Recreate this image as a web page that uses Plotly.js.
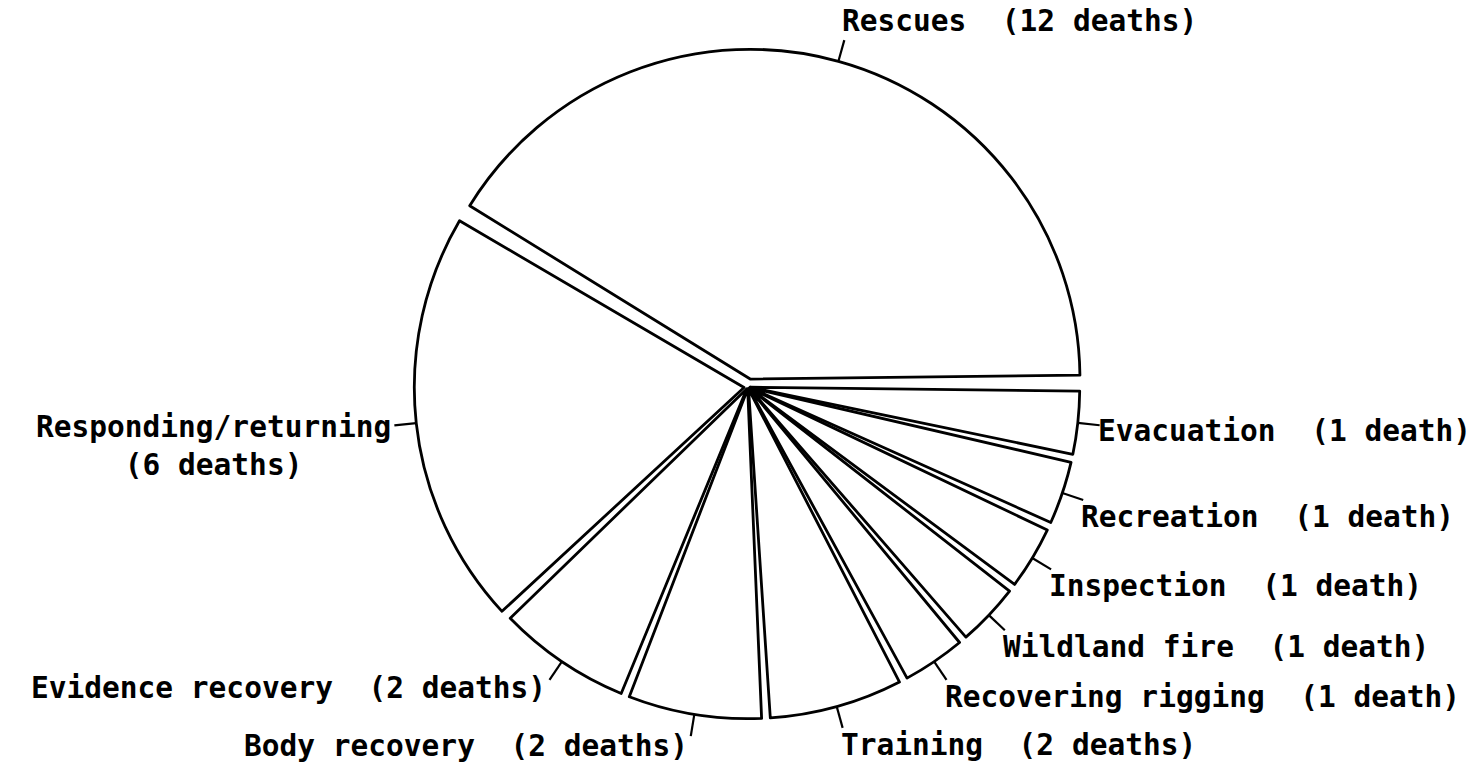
<!DOCTYPE html>
<html><head><meta charset="utf-8">
<script src="https://cdn.plot.ly/plotly-3.0.1.min.js"></script>
<style>html,body{margin:0;padding:0;background:#fff;}#chart{width:1475px;height:773px;}</style>
</head><body><div id="chart"></div>
<script>
// Data (counterclockwise from 3 o'clock)
const categories = ['Rescues','Responding/returning','Evidence recovery','Body recovery','Training','Recovering rigging','Wildland fire','Inspection','Recreation','Evacuation'];
const deaths = [12,6,2,2,2,1,1,1,1,1];
const labelTexts = [
  'Rescues\u00a0 (12 deaths)',
  'Responding/returning<br>(6 deaths)',
  'Evidence recovery\u00a0 (2 deaths)',
  'Body recovery\u00a0 (2 deaths)',
  'Training\u00a0 (2 deaths)',
  'Recovering rigging\u00a0 (1 death)',
  'Wildland fire\u00a0 (1 death)',
  'Inspection\u00a0 (1 death)',
  'Recreation\u00a0 (1 death)',
  'Evacuation\u00a0 (1 death)'
];
const pulls = [0.025,0.012,0.006,0.006,0.006,0.006,0.006,0.006,0.006,0.006];

// Layout constants
const W=1475, H=773, CX=748, CY=387, R0=330, GAP=0.11, LEAD=22, FONT=29.5, LW=2.8;
const FAMILY = '"DejaVu Sans Mono", "Liberation Mono", monospace';

const maxPull = Math.max(...pulls);
const half = R0*(1+maxPull);
const T = Math.round(CY-half);
const plotH = Math.round(2*half);
const B = H - T - plotH;
const r = plotH/(2+2*maxPull);
const cy = T + plotH/2;
const cx = CX;

// Slices: each category keeps its full share of the circle; a thin
// transparent separator (half on each side) is carved out of that share.
const vals=[], labs=[], cols=[], lws=[], pl=[];
categories.forEach((c,i)=>{
  vals.push(GAP/2); labs.push('sepA'+i); cols.push('rgba(0,0,0,0)'); lws.push(0); pl.push(0);
  vals.push(deaths[i]-GAP); labs.push(c); cols.push('#ffffff'); lws.push(LW); pl.push(pulls[i]);
  vals.push(GAP/2); labs.push('sepB'+i); cols.push('rgba(0,0,0,0)'); lws.push(0); pl.push(0);
});
const total = vals.reduce((a,b)=>a+b,0);
// Plotly (counterclockwise) places the first slice clockwise of `rotation`.
const rotation = 90 - 360*vals[0]/total;

const px2x = p => p/W;
const py2y = p => 1-(p-T)/plotH;

const shapes=[], annotations=[];
let cum=0;
categories.forEach((c0,i)=>{
  const start = cum; cum += deaths[i];
  const mid = (start + deaths[i]/2)/total*2*Math.PI;
  const c = Math.cos(mid), s = Math.sin(mid);
  const ox = cx + pulls[i]*r*c, oy = cy - pulls[i]*r*s;
  const ax = ox + r*c, ay = oy - r*s;
  const ex = ax + LEAD*c, ey = ay - LEAD*s;
  shapes.push({type:'line', xref:'paper', yref:'paper', x0:px2x(ax), y0:py2y(ay), x1:px2x(ex), y1:py2y(ey), line:{color:'#000', width:2.2}});
  const nLines = (labelTexts[i].match(/<br>/g)||[]).length + 1;
  let xa, tx, dy;
  if (c > 0.05) { xa='left'; tx = ex - 4; dy = Math.max(-19, Math.min(17, -s*55)); }
  else if (c < -0.05) { xa='right'; tx = ex - 1; dy = -s*10; }
  else { xa='center'; tx = ex; dy = -s*14; }
  const tyc = ey + dy + (nLines-1)*FONT*1.3/2;
  annotations.push({xref:'paper', yref:'paper', x:px2x(tx), y:py2y(tyc), xanchor:xa, yanchor:'middle',
    text:labelTexts[i], showarrow:false, align:'center', font:{family:FAMILY, size:FONT, color:'#000', weight:'bold'}});
});

const trace = {
  type:'pie', values:vals, labels:labs, sort:false, direction:'counterclockwise', rotation:rotation,
  pull:pl, textinfo:'none', hoverinfo:'skip',
  marker:{colors:cols, line:{color:'#000', width:lws}},
  domain:{x:[(cx-plotH/2)/W, (cx+plotH/2)/W], y:[0,1]},
  showlegend:false
};

Plotly.newPlot('chart', [trace], {
  width:W, height:H, margin:{l:0,r:0,t:T,b:B},
  paper_bgcolor:'#fff', plot_bgcolor:'#fff', showlegend:false,
  shapes:shapes, annotations:annotations
}, {displayModeBar:false, staticPlot:true});
</script></body></html>
